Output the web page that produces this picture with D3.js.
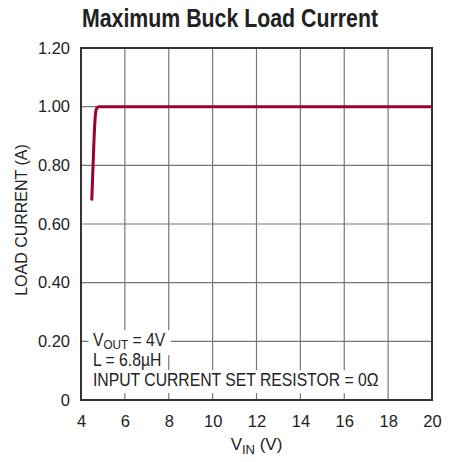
<!DOCTYPE html>
<html>
<head>
<meta charset="utf-8">
<script src="https://cdn.jsdelivr.net/npm/d3@7"></script>
<style>
  body { margin: 0; background: #fff; }
  text { font-family: "Liberation Sans", Arial, sans-serif; fill: #222; }
</style>
</head>
<body>
<div id="chart"></div>
<script>
// data
var vin = [4.49, 4.6, 4.66, 4.72, 4.82, 20];
var current = [0.68, 0.9, 0.975, 0.995, 1.0, 1.0];
var xTicks = [4, 6, 8, 10, 12, 14, 16, 18, 20];
var yTicks = [0, 0.2, 0.4, 0.6, 0.8, 1.0, 1.2];
var notes = ["V|OUT| = 4V", "L = 6.8µH", "INPUT CURRENT SET RESISTOR = 0Ω"];

var margin = { top: 48, right: 26, bottom: 62, left: 81 },
    width = 458 - margin.left - margin.right,
    height = 462 - margin.top - margin.bottom;

var svg = d3.select("#chart")
    .append("svg")
    .attr("width", 458)
    .attr("height", 462);

// title (squeezed to look like a condensed face)
svg.append("text")
    .attr("x", 82)
    .attr("y", 27)
    .attr("textLength", 296)
    .attr("lengthAdjust", "spacingAndGlyphs")
    .style("font-weight", "bold")
    .style("font-size", "25px")
    .text("Maximum Buck Load Current");

var g = svg.append("g")
    .attr("transform", "translate(" + margin.left + "," + margin.top + ")");

var x = d3.scaleLinear().domain([4, 20]).range([0, width]);
var y = d3.scaleLinear().domain([0, 1.2]).range([height, 0]);

// grid
g.append("g")
    .selectAll("line")
    .data(xTicks.slice(1, -1))
    .enter()
    .append("line")
    .attr("x1", function (d) { return x(d) })
    .attr("x2", function (d) { return x(d) })
    .attr("y1", 0)
    .attr("y2", height)
    .attr("stroke", "#777")
    .attr("stroke-width", 1.2);
g.append("g")
    .selectAll("line")
    .data(yTicks.slice(1, -1))
    .enter()
    .append("line")
    .attr("x1", 0)
    .attr("x2", width)
    .attr("y1", function (d) { return y(d) })
    .attr("y2", function (d) { return y(d) })
    .attr("stroke", "#777")
    .attr("stroke-width", 1.2);

// axes (labels only, frame drawn separately)
var xAxis = g.append("g")
    .attr("transform", "translate(0," + height + ")")
    .call(d3.axisBottom(x).tickValues(xTicks).tickSize(0).tickPadding(15).tickFormat(d3.format("d")));
var yAxis = g.append("g")
    .call(d3.axisLeft(y).tickValues(yTicks).tickSize(0).tickPadding(11)
        .tickFormat(function (d) { return d === 0 ? "0" : d3.format(".2f")(d) }));
[xAxis, yAxis].forEach(function (a) {
    a.select(".domain").remove();
    a.selectAll("text")
        .style("font-family", "'Liberation Sans', sans-serif")
        .style("font-size", "16.5px")
        .attr("fill", "#222");
});

// notes with white backing boxes
notes.forEach(function (s, i) {
    var ng = g.append("g")
        .attr("transform", "translate(12," + (height - 54 + i * 20) + ") scale(0.9,1)");
    var t = ng.append("text")
        .style("font-size", "17.5px");
    s.split("|").forEach(function (part, j) {
        var ts = t.append("tspan").text(part);
        if (j === 1) ts.attr("baseline-shift", "-3").style("font-size", "13px");
    });
    var b = t.node().getBBox();
    ng.insert("rect", "text")
        .attr("x", b.x - 5)
        .attr("y", b.y)
        .attr("width", b.width + 10)
        .attr("height", b.height + 3)
        .attr("fill", "#fff");
});

// frame
g.append("rect")
    .attr("width", width)
    .attr("height", height)
    .attr("fill", "none")
    .attr("stroke", "#333")
    .attr("stroke-width", 2);

// the line
g.append("path")
    .datum(vin.map(function (v, i) { return [v, current[i]] }))
    .attr("fill", "none")
    .attr("stroke", "#990033")
    .attr("stroke-width", 3)
    .attr("stroke-linejoin", "round")
    .attr("d", d3.line()
        .x(function (d) { return x(d[0]) })
        .y(function (d) { return y(d[1]) })
        .curve(d3.curveMonotoneX));

// axis titles
var xl = svg.append("text")
    .attr("x", margin.left + width / 2)
    .attr("y", 450)
    .attr("text-anchor", "middle")
    .style("font-size", "17px");
xl.append("tspan").text("V");
xl.append("tspan").text("IN").attr("baseline-shift", "-4").style("font-size", "13px");
xl.append("tspan").text(" (V)");

svg.append("text")
    .attr("transform", "translate(27," + (margin.top + height / 2 - 4) + ") rotate(-90)")
    .attr("text-anchor", "middle")
    .style("font-size", "16px")
    .text("LOAD CURRENT (A)");
</script>
</body>
</html>
